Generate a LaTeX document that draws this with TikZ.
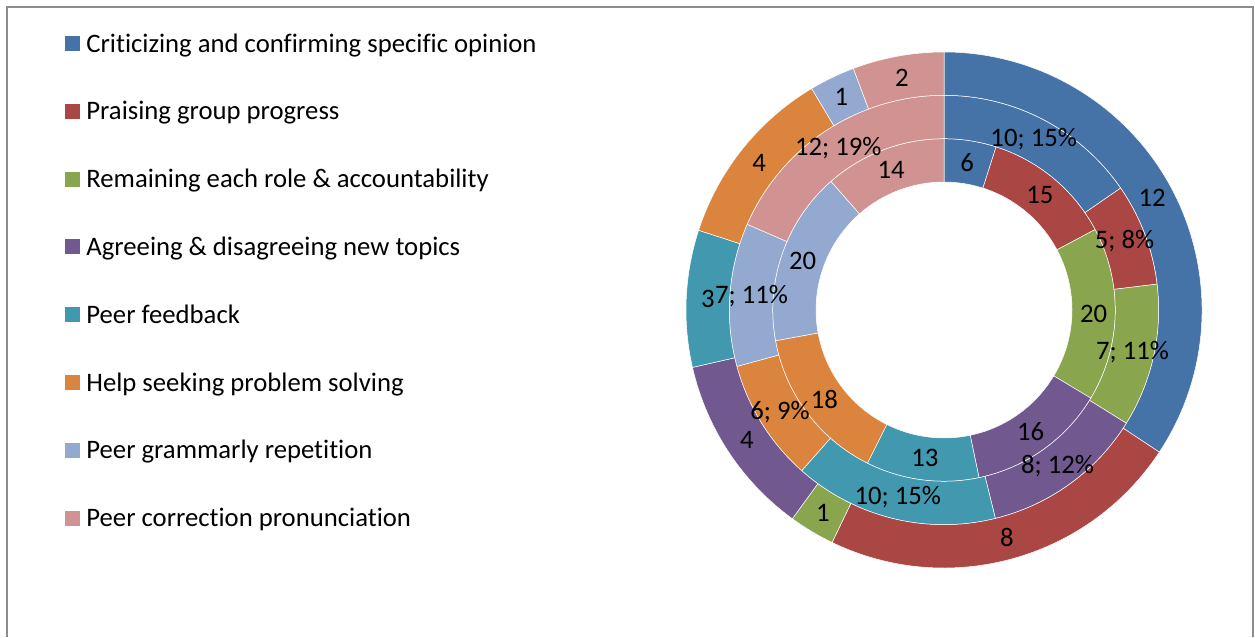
\documentclass[tikz,border=0pt]{standalone}
\usepackage{fontspec}
\setmainfont{Carlito}[Ligatures=NoCommon]
\usepackage{tikz}
\usetikzlibrary{positioning}

\definecolor{critic}{HTML}{4572A7}
\definecolor{praise}{HTML}{AA4643}
\definecolor{remain}{HTML}{89A54E}
\definecolor{agree}{HTML}{71588F}
\definecolor{feedback}{HTML}{4198AF}
\definecolor{helpseek}{HTML}{DB843D}
\definecolor{grammar}{HTML}{93A9CF}
\definecolor{pronounce}{HTML}{D19392}
\definecolor{framegray}{HTML}{8C8C8C}

% one piece of a ring: name, colour, inner r, outer r, total, start, value
\newcommand{\ringpart}[7]{%
 \pgfmathsetmacro{\angA}{90-#6/#5*360}%
 \pgfmathsetmacro{\angB}{90-(#6+#7)/#5*360}%
 \pgfmathsetmacro{\angM}{(\angA+\angB)/2}%
 \pgfmathsetmacro{\radM}{(#3+#4)/2}%
 \filldraw[part, fill=#2] (\angA:#3pt) arc[start angle=\angA, end angle=\angB, radius=#3pt]
   -- (\angB:#4pt) arc[start angle=\angB, end angle=\angA, radius=#4pt] -- cycle;
 \coordinate (#1) at (\angM:\radM pt);%
}

\begin{document}
\begin{tikzpicture}[
    x=1pt, y=1pt,
    font=\fontsize{26.7}{30}\selectfont,
	part/.style={
		draw=white,
		line width=0.5pt
	},
	keybox/.style={
		rectangle,
		inner sep=0pt,
		minimum size=15pt
	},
	keytext/.style={
		inner sep=0pt,
		text height=17.2pt,
		text depth=0pt
	},
	datalabel/.style={
		inner sep=0pt,
		text=black
	}
  ]
\useasboundingbox (0,0) rectangle (1255,637);

% // the frame
\draw[framegray, line width=1.6pt] (7,0) -- (7,630) -- (1253,630) -- (1253,0);

% // the legend
\node [keybox, fill=critic] (box1) at (72.5,593.5) {};
\node [keybox, fill=praise, below=52.4pt of box1] (box2) {};
\node [keybox, fill=remain, below=52.4pt of box2] (box3) {};
\node [keybox, fill=agree, below=52.4pt of box3] (box4) {};
\node [keybox, fill=feedback, below=52.4pt of box4] (box5) {};
\node [keybox, fill=helpseek, below=52.4pt of box5] (box6) {};
\node [keybox, fill=grammar, below=52.4pt of box6] (box7) {};
\node [keybox, fill=pronounce, below=52.4pt of box7] (box8) {};

\node [keytext, right=6pt of box1] (key1) {Criticizing and confirming specific opinion};
\node [keytext, right=6pt of box2] (key2) {Praising group progress};
\node [keytext, right=6pt of box3] (key3) {Remaining each role \& accountability};
\node [keytext, right=6pt of box4] (key4) {Agreeing \& disagreeing new topics};
\node [keytext, right=6pt of box5] (key5) {Peer feedback};
\node [keytext, right=6pt of box6] (key6) {Help seeking problem solving};
\node [keytext, right=6pt of box7] (key7) {Peer grammarly repetition};
\node [keytext, right=6pt of box8] (key8) {Peer correction pronunciation};

% // the doughnut
\coordinate (hub) at (944,327);
\begin{scope}[shift={(hub)}]
 % inner ring
 \ringpart{in1}{critic}{128}{171.3}{122}{0}{6}
 \ringpart{in2}{praise}{128}{171.3}{122}{6}{15}
 \ringpart{in3}{remain}{128}{171.3}{122}{21}{20}
 \ringpart{in4}{agree}{128}{171.3}{122}{41}{16}
 \ringpart{in5}{feedback}{128}{171.3}{122}{57}{13}
 \ringpart{in6}{helpseek}{128}{171.3}{122}{70}{18}
 \ringpart{in7}{grammar}{128}{171.3}{122}{88}{20}
 \ringpart{in8}{pronounce}{128}{171.3}{122}{108}{14}
 % middle ring
 \ringpart{mid1}{critic}{171.3}{214.7}{65}{0}{10}
 \ringpart{mid2}{praise}{171.3}{214.7}{65}{10}{5}
 \ringpart{mid3}{remain}{171.3}{214.7}{65}{15}{7}
 \ringpart{mid4}{agree}{171.3}{214.7}{65}{22}{8}
 \ringpart{mid5}{feedback}{171.3}{214.7}{65}{30}{10}
 \ringpart{mid6}{helpseek}{171.3}{214.7}{65}{40}{6}
 \ringpart{mid7}{grammar}{171.3}{214.7}{65}{46}{7}
 \ringpart{mid8}{pronounce}{171.3}{214.7}{65}{53}{12}
 % outer ring
 \ringpart{out1}{critic}{214.7}{258}{35}{0}{12}
 \ringpart{out2}{praise}{214.7}{258}{35}{12}{8}
 \ringpart{out3}{remain}{214.7}{258}{35}{20}{1}
 \ringpart{out4}{agree}{214.7}{258}{35}{21}{4}
 \ringpart{out5}{feedback}{214.7}{258}{35}{25}{3}
 \ringpart{out6}{helpseek}{214.7}{258}{35}{28}{4}
 \ringpart{out7}{grammar}{214.7}{258}{35}{32}{1}
 \ringpart{out8}{pronounce}{214.7}{258}{35}{33}{2}
\end{scope}

% // values
\node [datalabel] (in1lab) at (in1) {6};
\node [datalabel] (in2lab) at (in2) {15};
\node [datalabel] (in3lab) at (in3) {20};
\node [datalabel] (in4lab) at (in4) {16};
\node [datalabel] (in5lab) at (in5) {13};
\node [datalabel] (in6lab) at (in6) {18};
\node [datalabel] (in7lab) at (in7) {20};
\node [datalabel] (in8lab) at (in8) {14};

\node [datalabel] (mid1lab) at (mid1) {10; 15\%};
\node [datalabel] (mid2lab) at (mid2) {5; 8\%};
\node [datalabel] (mid3lab) at (mid3) {7; 11\%};
\node [datalabel] (mid4lab) at (mid4) {8; 12\%};
\node [datalabel] (mid5lab) at (mid5) {10; 15\%};
\node [datalabel] (mid6lab) at (mid6) {6; 9\%};
\node [datalabel] (mid7lab) at (mid7) {7; 11\%};
\node [datalabel] (mid8lab) at (mid8) {12; 19\%};

\node [datalabel] (out1lab) at (out1) {12};
\node [datalabel] (out2lab) at (out2) {8};
\node [datalabel] (out3lab) at (out3) {1};
\node [datalabel] (out4lab) at (out4) {4};
\node [datalabel] (out5lab) at (out5) {3};
\node [datalabel] (out6lab) at (out6) {4};
\node [datalabel] (out7lab) at (out7) {1};
\node [datalabel] (out8lab) at (out8) {2};

\end{tikzpicture}
\end{document}
